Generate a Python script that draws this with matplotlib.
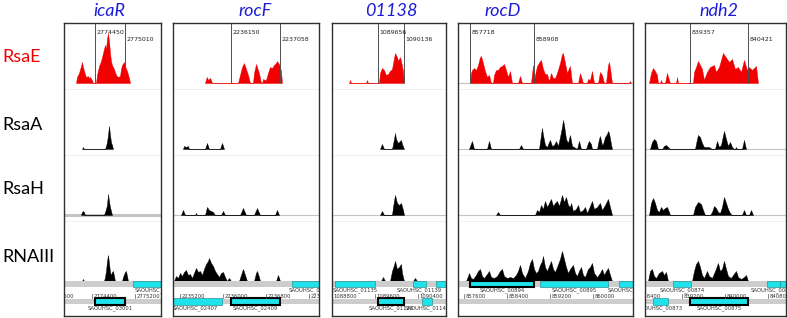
import matplotlib.pyplot as plt
from matplotlib.patches import Rectangle
from matplotlib.transforms import blended_transform_factory, offset_copy
import numpy as np

W, H = 787, 318
BIN_BP = 18.6  # bp per coverage bin

panels = ['icaR', 'rocF', '01138', 'rocD', 'ndh2']
tracks = ['RsaE', 'RsaA', 'RsaH', 'RNAIII']
track_colors = ['#f00000', 'black', 'black', 'black']

# genomic window of each panel
view_start = [2773879, 2235070, 1088800, 857488, 838512]
view_bins = [97, 146, 114, 175, 141]
target_start = [2774450, 2236150, 1089656, 857718, 839357]
target_end = [2775010, 2237058, 1090136, 858908, 840421]

# coverage profiles: bin index from view start, and depth
RsaE_bins = [
    [12, 13, 15, 17, 18, 19, 20, 21, 22, 24, 25, 26, 28, 29,
     32, 33, 35, 37, 39, 41, 42, 43, 44, 45, 46, 47, 48, 50, 52, 54, 56, 57, 58, 60, 61, 63, 65, 66],
    [32, 33, 34, 35, 36, 37, 38, 39, 65, 67, 69, 71, 73, 75, 77, 80, 81, 83, 84, 86, 88,
     89, 90, 92, 93, 95, 97, 99, 101, 103, 104, 106, 108, 109],
    [17, 18, 19, 34, 35, 36, 47, 48, 50, 52, 54, 56, 58, 60, 62, 63, 65, 66, 68, 69, 71, 72],
    [12, 13, 14, 16, 18, 20, 22, 23, 25, 27, 29, 31, 32, 33,
     35, 36, 38, 40, 42, 44, 46, 48, 50, 52, 54, 60, 62, 64,
     73, 75, 76, 77, 79, 82, 83, 85, 87, 89, 91, 93, 95, 97, 99, 102, 104, 105, 107, 109, 111, 112, 114,
     120, 122, 125, 129, 130, 132, 134, 136, 140, 142, 144, 146, 148, 150, 151, 152, 154, 171, 172, 173],
    [4, 6, 8, 10, 12, 13, 15, 16, 17, 20, 22, 24, 25, 31, 32, 33,
     48, 49, 51, 53, 55, 57, 59, 60, 62, 65, 69, 71, 74, 78, 82, 84, 87, 90, 93, 96, 99, 102, 104, 107, 111, 113],
]
RsaE_depth = [
    [0, 6, 10, 17, 21, 16, 12, 9, 6, 7, 5, 6, 3, 0,
     0, 8, 17, 22, 30, 38, 34, 44, 50, 42, 30, 22, 18, 14, 8, 6, 7, 14, 18, 21, 17, 12, 5, 0],
    [0, 4, 6, 3, 4, 5, 3, 0, 0, 8, 16, 20, 14, 8, 0, 0, 10, 19, 16, 10, 0,
     0, 4, 3, 3, 10, 16, 15, 18, 20, 22, 19, 12, 0],
    [0, 3, 0, 0, 3, 0, 0, 10, 15, 13, 8, 9, 12, 14, 25, 30, 26, 22, 26, 22, 12, 0],
    [0, 10, 13, 15, 13, 18, 26, 27, 20, 12, 6, 8, 4, 0,
     0, 8, 13, 13, 16, 17, 19, 13, 6, 12, 0, 0, 7, 0,
     0, 18, 2, 8, 17, 22, 23, 14, 9, 9, 2, 10, 5, 5, 10, 20, 29, 30, 20, 10, 15, 17, 0,
     0, 10, 0, 0, 4, 3, 12, 0, 0, 11, 8, 0, 0, 18, 21, 15, 0, 0, 2, 0],
    [0, 10, 15, 12, 8, 0, 0, 3, 0, 0, 10, 3, 0, 0, 6, 0,
     0, 11, 16, 22, 18, 14, 3, 6, 11, 16, 18, 11, 16, 30, 24, 21, 24, 14, 16, 11, 23, 13, 16, 13, 17, 0],
]
RsaA_bins = [
    [18, 19, 20, 41, 42, 43, 44, 45, 46, 47, 48, 49],
    [10, 11, 13, 15, 16, 32, 33, 34, 35, 36, 47, 48, 49, 50, 51],
    [48, 50, 52, 60, 62, 63, 64, 66, 68, 69, 70, 72],
    [11, 14, 16, 29, 31, 33, 61, 63, 65,
     81, 83, 84, 85, 87, 89, 91, 92, 94, 96, 98, 100, 102, 104, 105, 106, 108, 110, 112, 114, 116, 119, 121, 123,
     128, 130, 131, 133, 134, 139, 141, 142, 144, 145, 147, 149, 150, 151, 153, 154],
    [5, 7, 9, 11, 13, 17, 19, 21, 23, 25, 50, 52, 53, 55, 57, 59, 61, 64, 67,
     70, 72, 74, 76, 79, 81, 83, 85, 87, 89, 90, 91, 92, 97, 99, 101],
]
RsaA_depth = [
    [0, 2, 0, 0, 3, 7, 14, 23, 14, 7, 4, 0],
    [0, 3, 2, 3, 0, 0, 3, 6, 3, 0, 0, 3, 6, 3, 0],
    [0, 5, 0, 0, 10, 16, 10, 6, 8, 9, 5, 0],
    [0, 8, 0, 0, 8, 0, 0, 4, 0,
     0, 14, 21, 14, 4, 2, 7, 9, 3, 4, 8, 3, 12, 22, 29, 24, 10, 6, 14, 3, 2, 0, 8, 0,
     0, 6, 8, 5, 0, 0, 10, 13, 4, 5, 12, 15, 18, 16, 5, 0],
    [0, 7, 10, 8, 0, 0, 3, 4, 2, 0, 0, 10, 14, 12, 6, 2, 2, 2, 0,
     0, 8, 2, 4, 18, 10, 3, 7, 2, 0, 0, 2, 0, 0, 9, 0],
]
RsaH_bins = [
    [17, 18, 19, 20, 21, 40, 41, 42, 43, 44, 45, 46, 47, 48],
    [8, 10, 12, 22, 23, 24, 32, 34, 36, 38, 40, 42, 48, 50, 52, 67, 70, 73, 81, 84, 87, 102, 104, 106],
    [48, 50, 52, 60, 61, 63, 65, 67, 69, 71, 72],
    [38, 40, 42, 77, 79, 81, 83, 85, 87, 89, 91, 93, 95, 97, 99, 101, 103, 104, 106, 108, 110, 112, 113,
     115, 118, 120, 122, 125, 127, 129, 132, 134, 136, 139, 142, 144, 147, 149, 150, 152, 154],
    [4, 6, 8, 10, 12, 14, 16, 18, 20, 22, 24, 25, 48, 50, 53, 56, 58, 60,
     65, 67, 69, 71, 73, 75, 77, 79, 81, 83, 85, 87, 97, 99, 101, 104, 106, 108],
]
RsaH_depth = [
    [0, 3, 4, 3, 0, 0, 3, 6, 10, 21, 14, 8, 4, 0],
    [0, 5, 0, 0, 2, 0, 0, 8, 5, 4, 3, 0, 0, 4, 0, 0, 7, 0, 0, 7, 0, 0, 5, 0],
    [0, 4, 0, 0, 8, 20, 12, 10, 12, 5, 0],
    [0, 3, 0, 0, 5, 3, 10, 6, 14, 8, 12, 16, 9, 12, 14, 9, 16, 20, 13, 18, 10, 8, 12,
     4, 6, 10, 3, 5, 8, 2, 9, 14, 6, 8, 12, 5, 10, 14, 16, 8, 0],
    [0, 12, 17, 12, 5, 3, 8, 5, 7, 8, 3, 0, 0, 8, 13, 11, 5, 0,
     0, 3, 9, 7, 3, 2, 8, 18, 12, 6, 2, 0, 0, 5, 0, 0, 5, 0],
]
RNAIII_bins = [
    [18, 19, 20, 40, 41, 42, 43, 44, 45, 46, 47, 48, 49, 50, 51, 58, 59, 61, 62, 63, 64],
    [1, 3, 5, 7, 9, 11, 13, 15, 17, 19, 21, 23, 25, 27, 29, 31, 33, 35, 36, 38, 40, 42, 44, 46, 48, 50, 52, 54, 56, 58,
     66, 68, 70, 72, 74, 81, 83, 84, 86, 87, 103, 105, 107],
    [49, 51, 53, 58, 60, 62, 63, 65, 67, 69, 70, 72, 81, 83, 85],
    [8, 10, 11, 13, 15, 18, 20, 22, 24, 26, 29, 31, 33, 36, 39, 42, 44, 46, 49, 52,
     55, 58, 60, 62, 64, 67, 70, 72, 74, 76, 78, 80, 82, 84, 85, 87, 89, 91, 93, 95,
     97, 99, 102, 104, 106, 108, 110, 112, 115, 117, 119, 121, 123, 125, 127, 130, 132, 134, 136, 139,
     142, 144, 146, 148, 150, 152, 154],
    [3, 5, 7, 9, 11, 14, 17, 19, 21, 23, 47, 49, 51, 53, 55, 57, 59, 62, 64, 67,
     70, 73, 75, 77, 79, 81, 83, 86, 88, 91, 93, 96, 99, 101, 103],
]
RNAIII_depth = [
    [0, 2, 0, 0, 4, 10, 20, 26, 18, 9, 6, 9, 10, 5, 0, 0, 4, 9, 10, 5, 0],
    [0, 5, 3, 8, 5, 9, 11, 6, 7, 3, 8, 13, 9, 10, 6, 12, 17, 20, 23, 18, 15, 10, 7, 4, 8, 9, 4, 0, 3, 0,
     0, 6, 12, 6, 0, 0, 8, 10, 4, 0, 0, 6, 0],
    [0, 4, 0, 0, 10, 16, 20, 12, 14, 17, 8, 0, 0, 3, 0],
    [0, 5, 8, 3, 2, 6, 10, 12, 5, 3, 7, 10, 4, 3, 5, 10, 12, 5, 3, 4,
     3, 6, 10, 16, 8, 3, 10, 18, 22, 12, 8, 10, 16, 20, 25, 14, 10, 15, 20, 12,
     9, 14, 22, 30, 22, 14, 8, 12, 16, 8, 5, 10, 14, 6, 4, 12, 14, 18, 8, 4,
     8, 12, 6, 10, 13, 6, 0],
    [0, 10, 12, 5, 3, 8, 10, 6, 9, 0, 0, 10, 17, 20, 14, 6, 3, 10, 5, 3,
     10, 18, 10, 12, 20, 12, 5, 3, 6, 10, 4, 2, 4, 6, 0],
]
cov_bins = {'RsaE': RsaE_bins, 'RsaA': RsaA_bins, 'RsaH': RsaH_bins, 'RNAIII': RNAIII_bins}
cov_depth = {'RsaE': RsaE_depth, 'RsaA': RsaA_depth, 'RsaH': RsaH_depth, 'RNAIII': RNAIII_depth}

# annotated genes: start, end, strand, locus tag, target gene?
features = [
    [(2775163, 2776055, '+', 'SAOUHSC_03002', False), (2774450, 2775010, '-', 'SAOUHSC_03001', True)],
    [(2237283, 2237990, '+', 'SAOUHSC_02410', False), (2234990, 2235980, '-', 'SAOUHSC_02407', False),
     (2236150, 2237058, '-', 'SAOUHSC_02409', True)],
    [(1088856, 1089600, '+', 'SAOUHSC_01135', False), (1090307, 1090549, '+', 'SAOUHSC_01139', False),
     (1090735, 1091100, '+', '', False), (1089656, 1090136, '-', 'SAOUHSC_01138', True),
     (1090474, 1090660, '-', 'SAOUHSC_01140', False)],
    [(857718, 858908, '+', 'SAOUHSC_00894', True), (859014, 860278, '+', 'SAOUHSC_00895', False),
     (860483, 860900, '+', 'SAOUHSC_00896', False)],
    [(839033, 839367, '+', 'SAOUHSC_00874', False), (840781, 841023, '+', 'SAOUHSC_00876', False),
     (841023, 841400, '+', '', False), (838661, 838940, '-', 'SAOUHSC_00873', False),
     (839357, 840421, '-', 'SAOUHSC_00875', True)],
]

# which tracks show a grey zero line, per panel
baseline_on = {'RsaE': [3], 'RsaA': [3, 4], 'RsaH': [0, 1, 2, 3, 4], 'RNAIII': []}

# layout in pixels
panel_left = [64, 173, 332, 458, 645]
row_top = [23, 90, 156, 222]
row_bot = [90, 156, 222, 281]
base_off = [7, 7, 7, 0]
label_y = [57, 125, 189, 257]


def rect(l, t, r, b):
    return [l / W, 1 - b / H, (r - l) / W, (b - t) / H]


fig = plt.figure(figsize=(W / 100, H / 100), dpi=100)

for name, y, c in zip(tracks, label_y, track_colors):
    fig.text(2 / W, 1 - y / H, name, fontsize=13, family='Lato', color=c, va='center', ha='left')

for p, gene in enumerate(panels):
    x0 = view_start[p]
    x1 = x0 + view_bins[p] * BIN_BP
    left = panel_left[p]
    right = left + view_bins[p]

    frame = fig.add_axes(rect(left, 23, right, 316))
    frame.set_xticks([])
    frame.set_yticks([])
    frame.patch.set_alpha(0)
    frame.set_zorder(5)
    for s in frame.spines.values():
        s.set_color('#303030')
        s.set_linewidth(1.0)

    for r, tr in enumerate(tracks):
        ax = fig.add_axes(rect(left, row_top[r], right, row_bot[r]))
        ax.set_xlim(x0, x1)
        ax.set_ylim(-base_off[r], row_bot[r] - row_top[r] - base_off[r])
        ax.axis('off')
        if r < 3:
            ax.axhline(-base_off[r], color='#8c8c8c', lw=0.9)
        if p in baseline_on[tr]:
            lw = 2.2 if (tr == 'RsaH' and p == 0) else 0.8
            ax.axhline(0, color='#c4c4c4', lw=lw, zorder=0)
        x = x0 + np.array(cov_bins[tr][p]) * BIN_BP
        ax.fill_between(x, 0, cov_depth[tr][p], color=track_colors[r], lw=0.3)
        if r == 0:
            top = row_bot[r] - row_top[r] - base_off[r]
            ax.vlines([target_start[p], target_end[p]], 0, top, color='#505050', lw=0.7)
            tr_off = offset_copy(ax.transData, fig, x=1.5, units='dots')
            ax.text(target_start[p], 50, str(target_start[p]), transform=tr_off,
                    fontsize=4.5, color='#222222', va='center', ha='left')
            ax.text(target_end[p], 43, str(target_end[p]), transform=tr_off,
                    fontsize=4.5, color='#222222', va='center', ha='left')
            tt = blended_transform_factory(ax.transData, fig.transFigure)
            ax.text((target_start[p] + target_end[p]) / 2, 1 - 11.5 / H, gene, transform=tt,
                    fontsize=13, family='Lato', style='italic', color='#1c1cd8',
                    ha='center', va='center')

    # gene annotation strip
    gax = fig.add_axes(rect(left, 281, right, 316))
    gax.set_xlim(x0, x1)
    gax.set_ylim(35, 0)
    gax.axis('off')
    gax.axhspan(0, 6, color='#cdcdcd', lw=0)
    gax.axhspan(18, 23, color='#cdcdcd', lw=0)
    for (s, e, strand, tag, target) in features[p]:
        y0 = -0.3 if strand == '+' else 17.3
        gax.add_patch(Rectangle((s, y0), e - s, 6.3, fc='#1fe3ea',
                                ec='black' if target else '#2f8f95', lw=1.5 if target else 0.5))
        if tag:
            gax.text((s + e) / 2, y0 + 9.6, tag, fontsize=3.8, color='#333333',
                     ha='center', va='center', clip_on=True)
    tick_off = offset_copy(gax.transData, fig, x=1.5, units='dots')
    first = (int(x0 - 500) // 800 + 1) * 800
    for t in range(first, int(x1), 800):
        gax.plot([t, t], [13.0, 17.4], color='#555555', lw=0.5)
        gax.text(t, 15.4, str(t), transform=tick_off, fontsize=3.8, color='#333333',
                 ha='left', va='center', clip_on=True)

fig.savefig('out.png', dpi=100)
